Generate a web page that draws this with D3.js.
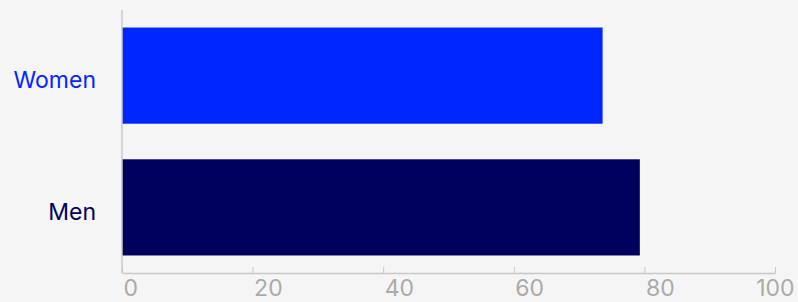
<!DOCTYPE html>
<head>
  <meta charset="utf-8">
  <script src="https://d3js.org/d3.v7.min.js"></script>
  <style>
    body {
      margin: 0;
      background: #f5f5f5;
      font-family: Inter, "Noto Sans", Arial, sans-serif;
    }
  </style>
</head>
<body>
<div id="vis"></div>
<script>
const categories = ["Women", "Men"];
const values = [73.6, 79.3];
const barColours = ["#0026ff", "#00005f"];
const tickValues = [0, 20, 40, 60, 80, 100];

const width = 798;
const height = 302;
const margin = { top: 10, right: 23, bottom: 29, left: 122 };

const svg = d3.select('#vis')
  .append('svg')
  .attr('width', width)
  .attr('height', height)
  .style('display', 'block');

const x = d3.scaleLinear()
  .domain([0, 100])
  .range([margin.left, width - margin.right]);

const y = d3.scaleBand()
  .domain(categories)
  .range([margin.top, height - margin.bottom])
  .paddingInner(0.27)
  .paddingOuter(0.133);

const colour = d3.scaleOrdinal().domain(categories).range(barColours);

// bars
svg.selectAll('.bar')
  .data(categories)
  .enter()
  .append('rect')
  .attr('class', 'bar')
  .attr('x', x(0))
  .attr('y', d => y(d))
  .attr('width', (d, i) => x(values[i]) - x(0))
  .attr('height', y.bandwidth())
  .attr('fill', d => colour(d));

// category labels
svg.selectAll('.cat')
  .data(categories)
  .enter()
  .append('text')
  .attr('class', 'cat')
  .attr('x', x(0) - 26)
  .attr('y', d => y(d) + y.bandwidth() / 2)
  .attr('dy', '0.55em')
  .attr('text-anchor', 'end')
  .style('font-size', '23px')
  .attr('fill', d => colour(d))
  .text(d => d);

// left axis line
svg.append('line')
  .attr('x1', x(0)).attr('x2', x(0))
  .attr('y1', margin.top).attr('y2', height - margin.bottom)
  .attr('stroke', '#c8c8c8')
  .attr('stroke-width', 1.5);

// bottom axis
const xAxis = d3.axisBottom(x)
  .tickValues(tickValues)
  .tickSize(-6)
  .tickSizeOuter(0)
  .tickPadding(0);

const gx = svg.append('g')
  .attr('transform', `translate(0,${height - margin.bottom})`)
  .call(xAxis);

gx.select('.domain').attr('stroke', '#c8c8c8').attr('stroke-width', 1.5);
gx.selectAll('.tick line').attr('stroke', '#c8c8c8').attr('stroke-width', 1);
gx.selectAll('.tick text')
  .attr('fill', '#aaaaaa')
  .style('font-size', '23px')
  .style('font-family', 'Inter, "Noto Sans", Arial, sans-serif')
  .attr('y', 23)
  .attr('dy', 0)
  .attr('text-anchor', (d, i) => i === tickValues.length - 1 ? 'end' : 'start')
  .attr('x', (d, i) => i === tickValues.length - 1 ? 19 : 1);
</script>
</body>
